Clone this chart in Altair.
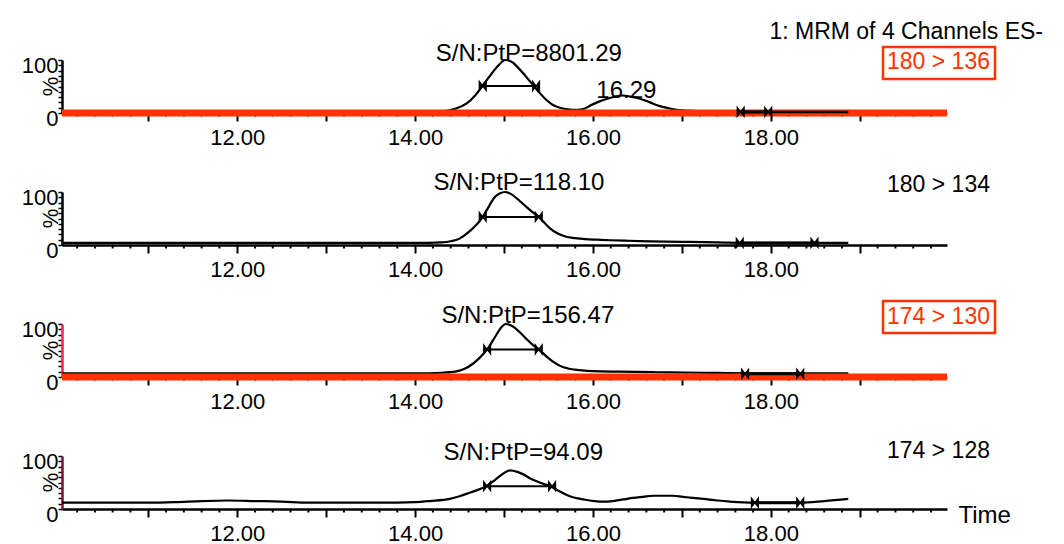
import altair as alt
import pandas as pd

FONT = "Liberation Sans"
RED = "#ff3300"

# ---------------- data ----------------
X_MIN, X_MAX = 10.03, 19.98
MAJOR_TICKS = [11, 12, 13, 14, 15, 16, 17, 18, 19]
MINOR_TICKS = [v / 10 for v in range(102, 200, 2) if v % 10]
Y_TICKS = [0, 10, 20, 30, 40, 50, 60, 70, 80, 90, 100]

CHANNELS = ["180 > 136", "180 > 134", "174 > 130", "174 > 128"]
HIGHLIGHT = [True, False, True, False]
AXIS_COLOR = ["black", "black", "#ff1f4b", "#7a1036"]

t1 = [10.03, 10.5, 11.0, 11.5, 12.0, 12.5, 13.0, 13.5, 14.0, 14.3, 14.45, 14.58, 14.68,
      14.76, 14.85, 14.92, 15.02, 15.1, 15.15, 15.25, 15.33, 15.4, 15.48, 15.55, 15.63,
      15.72, 15.82, 15.9, 15.97, 16.06, 16.16, 16.25, 16.33, 16.42, 16.53, 16.64, 16.75,
      16.85, 16.94, 17.1, 17.4, 17.8, 18.2, 18.5, 18.87]
v1 = [2, 2, 2, 2, 2, 2, 2, 2, 2, 3, 8, 18, 34, 52, 72, 87, 100, 95, 87, 68, 52, 38, 24, 15,
      10, 7, 6, 8, 14, 21, 27, 31, 33, 31, 27, 20, 13, 9, 6, 4, 3, 2, 2, 2, 2]

t2 = [10.03, 11.0, 12.0, 13.0, 14.0, 14.3, 14.4, 14.5, 14.62, 14.7, 14.76, 14.82, 14.89,
      14.95, 15.01, 15.08, 15.15, 15.25, 15.32, 15.39, 15.46, 15.52, 15.6, 15.69, 15.8,
      15.91, 16.05, 16.19, 16.4, 16.64, 17.0, 17.4, 17.8, 18.2, 18.5, 18.87]
v2 = [4, 4, 4, 4, 4, 5, 7, 12, 27, 40, 53, 70, 89, 97, 100, 96, 87, 72, 62, 53, 41, 31, 22,
      16, 13, 11, 10, 9, 8, 7, 6, 5, 4, 4, 4, 4]

t3 = [10.03, 11.0, 12.0, 13.0, 14.0, 14.3, 14.45, 14.55, 14.65, 14.73, 14.81, 14.9, 14.97,
      15.02, 15.08, 15.16, 15.25, 15.32, 15.39, 15.47, 15.55, 15.63, 15.72, 15.85, 16.0,
      16.3, 16.7, 17.2, 17.8, 18.4, 18.87]
v3 = [7, 7, 7, 7, 7, 8, 10, 15, 25, 37, 52, 76, 94, 100, 97, 87, 72, 61, 52, 40, 29, 21, 16,
      13, 11, 10, 9, 8, 7, 7, 7]

t4 = [10.03, 10.5, 11.0, 11.3, 11.6, 11.9, 12.2, 12.5, 12.8, 13.2, 13.6, 14.0, 14.17, 14.39,
      14.5, 14.62, 14.72, 14.81, 14.9, 15.0, 15.07, 15.15, 15.22, 15.29, 15.4, 15.54, 15.64,
      15.74, 15.83, 15.93, 16.02, 16.11, 16.22, 16.34, 16.45, 16.56, 16.68, 16.79, 16.9,
      17.01, 17.12, 17.24, 17.4, 17.54, 17.82, 18.1, 18.33, 18.6, 18.87]
v4 = [12, 12, 12, 13, 15, 16, 15, 14, 12, 12, 12, 13, 15, 19, 24, 31, 37, 44, 55, 68, 73, 70,
      65, 58, 50, 41, 32, 24, 20, 17, 15, 14, 15, 18, 21, 23, 25, 25, 25, 23, 21, 19, 16, 14,
      12, 12, 12, 15, 19]

TRACE_T = [t1, t2, t3, t4]
TRACE_V = [v1, v2, v3, v4]

# peak annotations
PEAK_RT = [15.02, 15.01, 15.02, 15.07]
PEAK_H = [100, 100, 100, 73]
SN_TEXT = ["S/N:PtP=8801.29", "S/N:PtP=118.10", "S/N:PtP=156.47", "S/N:PtP=94.09"]
# integration (half-height) bars
BAR_START = [14.76, 14.76, 14.81, 14.81]
BAR_END = [15.36, 15.39, 15.39, 15.54]
BAR_LEVEL = [51, 53, 52, 43]
# noise-window markers on the baseline
NOISE_START = [17.66, 17.65, 17.71, 17.82]
NOISE_END = [17.97, 18.49, 18.33, 18.33]
NOISE_LEVEL = [2, 4, 6, 12]

SECOND_PEAK_RT = 16.33
SECOND_PEAK_H = 33
SECOND_PEAK_TEXT = "16.29"
P1_SEGMENT = [17.66, 18.87]

HEADER = "1: MRM of 4 Channels ES-"

# ---------------- styling ----------------
W, H = 885, 53
SN_OFFSET = [(23, -6), (14, -9), (22, -8), (13, -17)]
CH_Y = [2, -7, -7, -5]
BOX_Y = [(-13, 19), (-23, 9)]
BOWTIE = "M-0.75,-1L0.75,1L0.75,-1L-0.75,1Z"


def make_axes(i):
    last = i == 3
    xaxis = alt.Axis(
        values=MAJOR_TICKS,
        labelExpr="datum.value % 2 == 0 ? format(datum.value, '.2f') : ''",
        tickSize=8, tickWidth=2, tickColor="black",
        domainColor=RED if HIGHLIGHT[i] else "black", domainWidth=2.5,
        labelFontSize=22, labelColor="black", labelFont=FONT, labelPadding=6,
        labelFlush=False, labelOverlap=False, grid=False,
        title="Time" if last else "",
        titleFont=FONT, titleFontSize=24, titleFontWeight="normal", titleColor="black",
        titleX=896, titleY=6, titleAlign="left", titleBaseline="middle", titleAngle=0,
    )
    yaxis = alt.Axis(
        values=Y_TICKS,
        labelExpr="(datum.value == 0 || datum.value == 100) ? datum.label : ''",
        tickSize=4, tickWidth=1.5, tickColor="black",
        domainColor=AXIS_COLOR[i], domainWidth=2.5,
        labelFontSize=22, labelColor="black", labelFont=FONT, labelPadding=0,
        labelOffset=5, labelBaseline="middle", labelOverlap=False, labelFlush=False,
        grid=False, title="%", titleFont=FONT, titleFontSize=22,
        titleFontWeight="normal", titleColor="black", titleAngle=270,
        titleX=-12, titleY=26, titleAlign="center", titleBaseline="middle",
    )
    return xaxis, yaxis


def make_panel(i):
    xaxis, yaxis = make_axes(i)
    xscale = alt.Scale(domain=[X_MIN, X_MAX], nice=False, zero=False)
    yscale = alt.Scale(domain=[0, 100], nice=False, zero=False)

    def xenc(field):
        return alt.X(field, type="quantitative", scale=xscale, axis=xaxis)

    def yenc(field):
        return alt.Y(field, type="quantitative", scale=yscale, axis=yaxis)

    trace_df = pd.DataFrame({"t": TRACE_T[i], "v": TRACE_V[i]})
    trace = alt.Chart(trace_df).mark_line(
        color="black", strokeWidth=2.2, interpolate="monotone"
    ).encode(x=xenc("t"), y=yenc("v"))

    minor_df = pd.DataFrame({"t": MINOR_TICKS})
    minor = alt.Chart(minor_df).mark_rule(color="black", strokeWidth=2).encode(
        x=xenc("t"), y=alt.value(H), y2=alt.value(H + 3.5)
    )

    layers = [trace, minor]

    if HIGHLIGHT[i]:
        band_df = pd.DataFrame({"t": [X_MIN], "b": [X_MAX], "v": [0]})
        band = alt.Chart(band_df).mark_rule(color=RED, strokeWidth=7).encode(
            x=xenc("t"), x2="b", y=yenc("v")
        )
        layers.append(band)

    if i == 0:
        seg_df = pd.DataFrame({"t": [P1_SEGMENT[0]], "b": [P1_SEGMENT[1]], "v": [NOISE_LEVEL[0]]})
        layers.append(alt.Chart(seg_df).mark_rule(color="black", strokeWidth=2.5).encode(
            x=xenc("t"), x2="b", y=yenc("v")))

    bar_df = pd.DataFrame({"t": [BAR_START[i]], "b": [BAR_END[i]], "v": [BAR_LEVEL[i]]})
    layers.append(alt.Chart(bar_df).mark_rule(color="black", strokeWidth=2).encode(
        x=xenc("t"), x2="b", y=yenc("v")))

    noise_df = pd.DataFrame({"t": [NOISE_START[i]], "b": [NOISE_END[i]], "v": [NOISE_LEVEL[i]]})
    layers.append(alt.Chart(noise_df).mark_rule(color="black", strokeWidth=3).encode(
        x=xenc("t"), x2="b", y=yenc("v")))

    mk_df = pd.DataFrame({
        "t": [BAR_START[i], BAR_END[i], NOISE_START[i], NOISE_END[i]],
        "v": [BAR_LEVEL[i], BAR_LEVEL[i], NOISE_LEVEL[i], NOISE_LEVEL[i]],
    })
    layers.append(alt.Chart(mk_df).mark_point(
        shape=BOWTIE, filled=True, color="black", size=85, opacity=1,
        stroke="black", strokeWidth=1.2
    ).encode(x=xenc("t"), y=yenc("v")))

    sn_df = pd.DataFrame({"t": [PEAK_RT[i]], "v": [PEAK_H[i]], "label": [SN_TEXT[i]]})
    layers.append(alt.Chart(sn_df).mark_text(
        font=FONT, fontSize=24, color="black", align="center", baseline="middle",
        dx=SN_OFFSET[i][0], dy=SN_OFFSET[i][1]
    ).encode(x=xenc("t"), y=yenc("v"), text="label:N"))

    if i == 0:
        p2_df = pd.DataFrame({"t": [SECOND_PEAK_RT], "v": [SECOND_PEAK_H], "label": [SECOND_PEAK_TEXT]})
        layers.append(alt.Chart(p2_df).mark_text(
            font=FONT, fontSize=24, color="black", align="center", baseline="middle",
            dx=4, dy=-5
        ).encode(x=xenc("t"), y=yenc("v"), text="label:N"))
        hd_df = pd.DataFrame({"label": [HEADER]})
        layers.append(alt.Chart(hd_df).mark_text(
            font=FONT, fontSize=23, color="black", align="right", baseline="middle"
        ).encode(x=alt.value(981), y=alt.value(-28), text="label:N"))

    ch_df = pd.DataFrame({"label": [CHANNELS[i]]})
    layers.append(alt.Chart(ch_df).mark_text(
        font=FONT, fontSize=23, color=RED if HIGHLIGHT[i] else "black",
        align="right", baseline="middle"
    ).encode(x=alt.value(928), y=alt.value(CH_Y[i]), text="label:N"))

    if HIGHLIGHT[i]:
        by = BOX_Y[0] if i == 0 else BOX_Y[1]
        layers.append(alt.Chart(ch_df).mark_rect(
            filled=False, stroke=RED, strokeWidth=2.5
        ).encode(x=alt.value(821), x2=alt.value(933), y=alt.value(by[0]), y2=alt.value(by[1])))

    return alt.layer(*layers).properties(width=W, height=H)


panels = [make_panel(i) for i in range(4)]

chart = alt.vconcat(*panels, spacing=79, bounds="flush").properties(
    padding={"left": 13, "top": 13, "right": 5, "bottom": 0}
).configure(background="white", font=FONT).configure_view(strokeWidth=0)

chart.save("out.html", embed_options={"renderer": "svg", "actions": False})
